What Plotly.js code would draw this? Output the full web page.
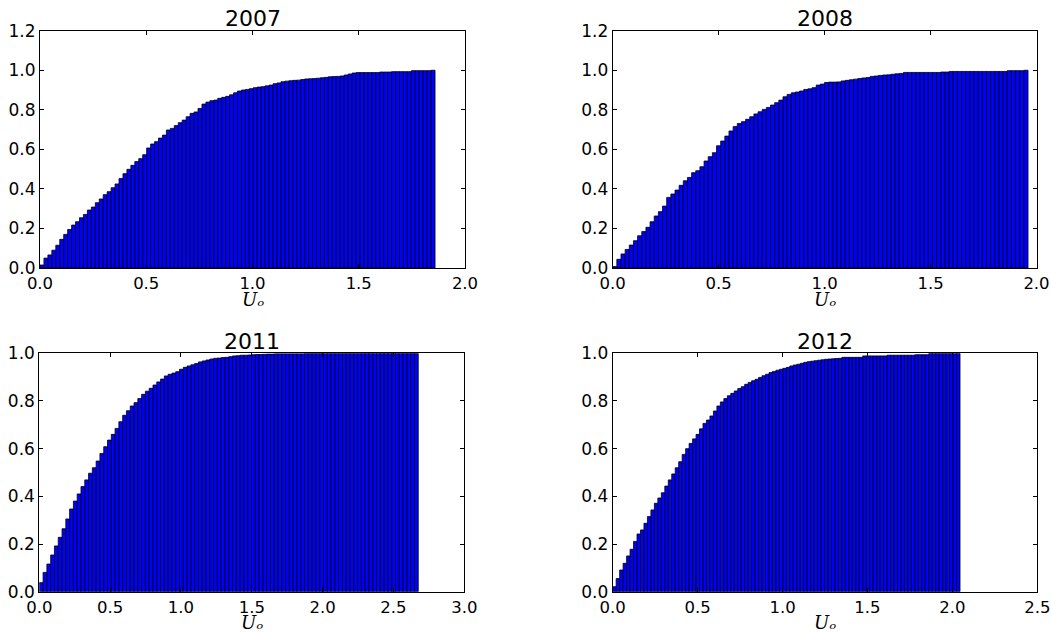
<!DOCTYPE html>
<html>
<head>
<meta charset="utf-8">
<script src="https://cdn.plot.ly/plotly-3.0.1.min.js"></script>
<style>html,body{margin:0;padding:0;background:#fff;}#chart{width:1051px;height:633px;}</style>
</head>
<body>
<div id="chart"></div>
<script>
// Panel titles
const years = ["2007", "2008", "2011", "2012"];
// Largest U_o value per year (histogram spans 0..max in 100 bins)
const uMax = [1.859, 1.96, 2.675, 2.045];
const nBins = 100;
// x-axis tick labels / ranges
const xTickVals = [[0,0.5,1.0,1.5,2.0],[0,0.5,1.0,1.5,2.0],[0,0.5,1.0,1.5,2.0,2.5,3.0],[0,0.5,1.0,1.5,2.0,2.5]];
const xUpper = [2.0, 2.0, 3.0, 2.5];
const yUpper = [1.2, 1.2, 1.0, 1.0];

// Cumulative fractions per bin
const cum2007 = [
0.015,0.05,0.066,0.09,0.115,0.145,0.17,0.195,0.217,0.234,
0.254,0.271,0.293,0.308,0.33,0.349,0.371,0.386,0.406,0.425,
0.452,0.477,0.499,0.519,0.538,0.553,0.573,0.607,0.627,0.639,
0.657,0.672,0.698,0.706,0.72,0.735,0.748,0.765,0.782,0.789,
0.807,0.829,0.839,0.846,0.849,0.858,0.863,0.868,0.876,0.886,
0.895,0.9,0.903,0.907,0.912,0.915,0.917,0.921,0.925,0.932,
0.936,0.942,0.945,0.947,0.949,0.95,0.953,0.956,0.957,0.958,
0.96,0.962,0.964,0.967,0.968,0.969,0.971,0.976,0.981,0.986,
0.988,0.988,0.988,0.988,0.988,0.988,0.991,0.991,0.991,0.993,
0.993,0.993,0.993,0.993,0.998,0.998,0.998,0.998,0.998,1.0];
const cum2008 = [
0.007,0.044,0.071,0.094,0.116,0.138,0.163,0.184,0.206,0.234,
0.263,0.285,0.313,0.357,0.374,0.394,0.418,0.441,0.458,0.482,
0.492,0.512,0.541,0.563,0.583,0.618,0.642,0.667,0.693,0.715,
0.731,0.74,0.752,0.765,0.779,0.79,0.802,0.812,0.824,0.836,
0.849,0.866,0.878,0.886,0.89,0.895,0.903,0.906,0.912,0.925,
0.93,0.938,0.94,0.94,0.941,0.946,0.949,0.952,0.955,0.958,
0.961,0.963,0.969,0.971,0.974,0.976,0.977,0.98,0.982,0.984,
0.989,0.989,0.989,0.989,0.989,0.989,0.989,0.989,0.989,0.991,
0.991,0.994,0.994,0.994,0.994,0.994,0.994,0.994,0.994,0.994,
0.994,0.994,0.994,0.994,0.994,0.998,0.998,0.998,0.998,1.0];
const cum2011 = [
0.038,0.081,0.116,0.154,0.192,0.228,0.264,0.305,0.347,0.38,
0.41,0.441,0.469,0.497,0.52,0.548,0.58,0.608,0.636,0.66,
0.685,0.713,0.74,0.759,0.779,0.793,0.81,0.828,0.841,0.853,
0.867,0.88,0.892,0.905,0.912,0.917,0.923,0.933,0.941,0.947,
0.952,0.957,0.964,0.968,0.972,0.976,0.979,0.98,0.982,0.983,
0.986,0.989,0.99,0.992,0.992,0.993,0.994,0.995,0.995,0.996,
0.997,0.997,0.998,0.998,0.998,0.998,0.998,0.998,0.998,0.998,
0.999,0.999,0.999,0.999,0.999,0.999,0.999,0.999,0.999,0.999,
0.999,0.999,0.999,0.999,0.999,1.0,1.0,1.0,1.0,1.0,
1.0,1.0,1.0,1.0,1.0,1.0,1.0,1.0,1.0,1.0];
const cum2012 = [
0.021,0.055,0.091,0.119,0.15,0.178,0.211,0.242,0.259,0.287,
0.315,0.343,0.371,0.393,0.415,0.443,0.469,0.494,0.52,0.545,
0.576,0.6,0.622,0.641,0.66,0.683,0.706,0.72,0.737,0.758,
0.779,0.796,0.81,0.822,0.832,0.842,0.852,0.86,0.87,0.878,
0.885,0.891,0.899,0.906,0.912,0.919,0.924,0.929,0.933,0.937,
0.941,0.947,0.951,0.954,0.958,0.962,0.965,0.967,0.969,0.971,
0.973,0.975,0.976,0.977,0.978,0.979,0.983,0.983,0.983,0.983,
0.983,0.983,0.989,0.989,0.989,0.989,0.989,0.989,0.989,0.992,
0.992,0.992,0.992,0.992,0.992,0.992,0.992,0.994,0.994,0.994,
0.994,0.999,0.999,0.999,0.999,0.999,0.999,0.999,0.999,1.0];
const series = [cum2007, cum2008, cum2011, cum2012];

const W = 1051, H = 633;
// panel boxes in pixels [left, right, top, bottom]
const boxes = [[40,465,30.7,268],[612.7,1036.5,30.7,268],[39.3,464.3,353.3,591.7],[612.7,1037.3,353.3,591.7]];

const traces = [];
const layout = {
  width: W, height: H,
  margin: {l:0, r:0, t:0, b:0},
  paper_bgcolor: '#ffffff', plot_bgcolor: '#ffffff',
  showlegend: false,
  bargap: 0,
  font: {family: 'DejaVu Sans, sans-serif', size: 17, color: '#000'},
  annotations: []
};
const tickFmt = v => v.toFixed(1);
series.forEach((vals, k) => {
  const idx = k === 0 ? '' : String(k+1);
  const bw = uMax[k] / nBins;
  traces.push({
    type: 'bar',
    x0: bw/2, dx: bw,
    y: vals,
    width: bw,
    xaxis: 'x' + idx, yaxis: 'y' + idx,
    marker: {color: '#0000ff', line: {color: '#000000', width: 0.8}},
    hoverinfo: 'skip'
  });
  const b = boxes[k];
  const yt = [];
  for (let v = 0; v <= yUpper[k] + 1e-9; v += 0.2) yt.push(+v.toFixed(1));
  layout['xaxis' + idx] = {
    domain: [b[0]/W, b[1]/W], anchor: 'y' + idx,
    range: [0, xUpper[k]], tickvals: xTickVals[k], ticktext: xTickVals[k].map(tickFmt),
    ticks: 'inside', ticklen: 4, tickcolor: '#000', mirror: 'ticks', showline: true,
    linecolor: '#000', linewidth: 1, showgrid: false, zeroline: false,
    tickfont: {size: 16.5, family: 'DejaVu Sans'}
  };
  layout['yaxis' + idx] = {
    domain: [1 - b[3]/H, 1 - b[2]/H], anchor: 'x' + idx,
    range: [0, yUpper[k]], tickvals: yt, ticktext: yt.map(tickFmt),
    ticks: 'inside', ticklen: 4, tickcolor: '#000', mirror: 'ticks', showline: true,
    linecolor: '#000', linewidth: 1, showgrid: false, zeroline: false,
    tickfont: {size: 17, family: 'DejaVu Sans'}
  };
  const cx = ((b[0]+b[1])/2)/W;
  layout.annotations.push({
    text: years[k], xref: 'paper', yref: 'paper', x: cx, y: 1 - (b[2]-12)/H,
    xanchor: 'center', yanchor: 'middle', showarrow: false,
    font: {size: 22, family: 'DejaVu Sans', color: '#000'}
  });
  layout.annotations.push({
    text: '<i>U\u2092</i>', xref: 'paper', yref: 'paper', x: cx, y: 1 - (b[3]+31)/H,
    xanchor: 'center', yanchor: 'middle', showarrow: false, borderpad: 0,
    font: {size: 18, family: 'DejaVu Serif', color: '#000'}
  });
});

Plotly.newPlot('chart', traces, layout, {staticPlot: true, displayModeBar: false});
</script>
</body>
</html>
